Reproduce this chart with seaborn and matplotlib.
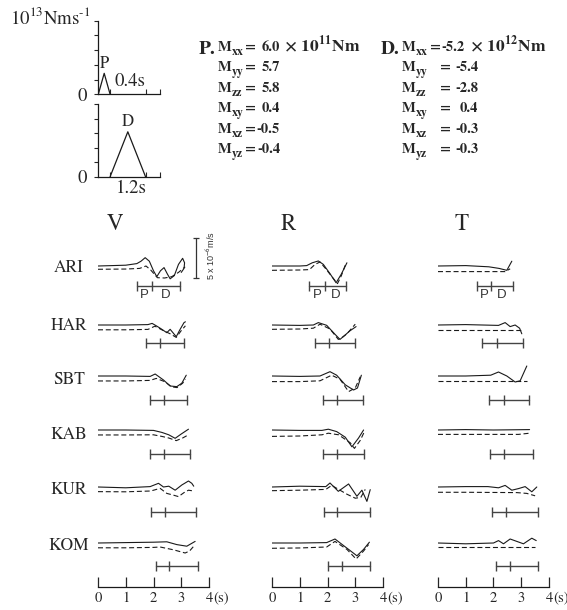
import numpy as np
import pandas as pd
import matplotlib
matplotlib.use("Agg")
import matplotlib.pyplot as plt
import matplotlib.transforms as mtrans
import seaborn as sns

sns.set_theme(style="white")
plt.rcParams['font.family'] = ['STIXGeneral', 'DejaVu Sans']
plt.rcParams['mathtext.fontset'] = 'stix'
plt.rcParams['axes.unicode_minus'] = False

# ---------------- data ----------------
# source time functions (10^13 Nm/s vs s)
stf_time_P = [0.0, 0.2, 0.4]
stf_rate_P = [0.0, 0.285, 0.0]
stf_time_D = [0.4, 1.0, 1.6]
stf_rate_D = [0.0, 0.62, 0.0]

# moment tensors
mt_components = ['xx', 'yy', 'zz', 'xy', 'xz', 'yz']
mt_P = ['6.0', '5.7', '5.8', '0.4', '-0.5', '-0.4']
mt_D = ['-5.2', '-5.4', '-2.8', '0.4', '-0.3', '-0.3']

stations = ['ARI', 'HAR', 'SBT', 'KAB', 'KUR', 'KOM']
comps = ['V', 'R', 'T']
time_ticks = [0, 1, 2, 3, 4]

# waveforms (time s, velocity 10^-6 m/s); obs = solid, syn = dashed
V_ARI_obs = [(0, 0), (1.0, 0.1), (1.4, 0.3), (1.55, 0.6), (1.7, 1.04), (1.85, 0.6), (2.0, -0.6), (2.12, -1.33),
             (2.25, -0.6), (2.38, -0.2), (2.5, -1.0), (2.6, -1.6), (2.75, -1.2), (2.9, 0.2), (3.05, 0.96),
             (3.12, 0.4), (3.1, -0.3), (3.0, -0.8)]
V_ARI_syn = [(0, -0.41), (1.0, -0.38), (1.5, -0.3), (1.73, 0.0), (1.9, -0.5), (2.14, -1.46), (2.4, -1.5),
             (2.66, -1.33), (2.9, -0.8), (3.14, -0.1)]
V_HAR_obs = [(0, 0), (1.0, 0), (1.8, 0.05), (1.95, 0.2), (2.1, -0.1), (2.24, -0.4), (2.48, -0.96), (2.6, -0.54),
             (2.82, -1.46), (2.95, -0.6), (3.1, 0.3), (3.15, 0.4)]
V_HAR_syn = [(0, -0.6), (1.0, -0.6), (1.8, -0.55), (2.05, -0.15), (2.3, -0.6), (2.6, -1.1), (2.82, -1.55),
             (3.0, -0.7), (3.15, -0.1)]
V_SBT_obs = [(0, 0), (1.0, 0.0), (1.88, -0.05), (2.06, 0.25), (2.36, -0.5), (2.6, -1.25), (2.84, -1.33),
             (3.02, -0.9), (3.18, 0.1)]
V_SBT_syn = [(0, -0.62), (1.0, -0.62), (1.88, -0.55), (2.1, -0.3), (2.4, -0.7), (2.65, -1.35), (2.85, -1.45),
             (3.05, -0.9), (3.15, -0.4)]
V_KAB_obs = [(0, 0), (1.0, 0), (2.0, -0.05), (2.3, -0.3), (2.55, -0.6), (2.78, -1.04), (3.0, -0.5), (3.26, 0.1)]
V_KAB_syn = [(0, -0.62), (1.0, -0.62), (2.0, -0.6), (2.3, -0.8), (2.55, -1.0), (2.82, -1.33), (3.05, -1.0),
             (3.26, -0.6)]
V_KUR_obs = [(0, 0), (1.0, -0.1), (1.88, 0.05), (2.18, 0.46), (2.36, 0.0), (2.55, 0.1), (2.78, -0.4), (3.02, 0.25),
             (3.26, 0.75), (3.38, 0.46), (3.45, 0.1)]
V_KUR_syn = [(0, -0.58), (1.0, -0.6), (1.9, -0.5), (2.24, -0.17), (2.48, -0.8), (2.7, -1.0), (2.9, -1.2),
             (3.1, -0.7), (3.26, -0.4), (3.45, -0.5)]
V_KOM_obs = [(0, 0), (1.0, 0.05), (2.0, 0.1), (2.48, 0.15), (2.84, -0.2), (3.2, -0.4), (3.5, 0.2)]
V_KOM_syn = [(0, -0.6), (1.0, -0.6), (2.0, -0.55), (2.24, -0.5), (2.72, -0.85), (3.14, -1.25), (3.3, -1.0),
             (3.45, -0.4)]

R_ARI_obs = [(0, 0), (1.0, 0), (1.25, 0.05), (1.45, 0.4), (1.67, 0.63), (1.85, 0.2), (2.09, -0.96), (2.31, -2.1),
             (2.5, -1.0), (2.7, 0.4)]
R_ARI_syn = [(0, -0.54), (1.0, -0.5), (1.35, -0.45), (1.55, 0.2), (1.73, 0.5), (1.95, -0.4), (2.15, -1.3),
             (2.36, -2.2), (2.5, -1.2), (2.64, 0.1)]
R_HAR_obs = [(0, 0), (1.0, -0.05), (1.49, 0), (1.67, 0.3), (1.97, -0.04), (2.27, -1.16), (2.45, -1.8),
             (2.62, -1.3), (2.8, -0.75), (3.03, -0.2)]
R_HAR_syn = [(0, -0.54), (1.0, -0.5), (1.49, -0.4), (1.73, 0.1), (2.09, -0.5), (2.39, -1.8), (2.55, -1.5),
             (2.7, -1.1), (3.0, 0.1)]
R_SBT_obs = [(0, 0), (1.0, -0.05), (1.73, 0), (2.09, 0.54), (2.33, 0.1), (2.64, -1.1), (2.94, -1.75), (3.08, -1.5),
             (3.22, 0.1)]
R_SBT_syn = [(0, -0.7), (1.0, -0.7), (1.73, -0.6), (2.15, 0.1), (2.45, -0.4), (2.76, -1.95), (3.0, -1.5),
             (3.18, -0.1)]
R_KAB_obs = [(0, 0), (1.0, -0.05), (1.8, -0.05), (2.03, 0.1), (2.33, -0.2), (2.64, -0.9), (2.88, -2.1),
             (3.12, -1.0), (3.3, 0.0)]
R_KAB_syn = [(0, -0.8), (1.0, -0.75), (1.8, -0.6), (2.03, -0.4), (2.4, -0.6), (2.82, -1.6), (2.97, -2.3),
             (3.18, -1.3), (3.33, -0.2)]
R_KUR_obs = [(0, 0), (1.0, 0.1), (1.94, 0.05), (2.09, 0.5), (2.39, -0.54), (2.76, 0.38), (3.06, -1.16),
             (3.24, -0.4), (3.42, -1.8), (3.54, -0.33)]
R_KUR_syn = [(0, -0.46), (1.0, -0.4), (1.94, -0.3), (2.15, 0.2), (2.45, -0.4), (2.7, -0.9), (3.0, -1.4),
             (3.2, -1.3), (3.36, -0.3)]
R_KOM_obs = [(0, 0), (1.0, 0), (1.97, 0.05), (2.27, 0.5), (2.57, -0.3), (2.82, -0.96), (3.06, -1.6), (3.3, -0.8),
             (3.51, 0.1)]
R_KOM_syn = [(0, -0.66), (1.0, -0.62), (1.97, -0.5), (2.27, 0.2), (2.7, -0.8), (3.03, -2.0), (3.3, -1.0),
             (3.48, -0.2)]

T_ARI_obs = [(0, 0), (1.0, 0.05), (1.83, -0.1), (2.2, -0.3), (2.48, -0.54), (2.66, 0.6)]
T_ARI_syn = [(0, -0.7), (1.0, -0.7), (2.0, -0.7), (2.42, -0.7), (2.6, -0.35)]
T_HAR_obs = [(0, 0), (1.0, 0.05), (2.18, -0.05), (2.42, 0.3), (2.6, -0.2), (2.78, 0.0), (2.94, -0.4), (3.02, -1.1)]
T_HAR_syn = [(0, -0.63), (1.0, -0.63), (2.98, -0.63)]
T_SBT_obs = [(0, 0), (1.0, 0.0), (1.9, 0.1), (2.18, 0.5), (2.48, 0.0), (2.78, -0.75), (2.96, -0.6), (3.2, 1.25)]
T_SBT_syn = [(0, -0.63), (1.0, -0.63), (3.2, -0.63)]
T_KAB_obs = [(0, 0), (1.0, 0.05), (2.0, 0.0), (3.3, 0.05)]
T_KAB_syn = [(0, -0.55), (1.0, -0.55), (2.9, -0.55), (3.3, -0.4)]
T_KUR_obs = [(0, 0), (1.0, 0.05), (1.8, 0.05), (2.18, -0.1), (2.42, 0.2), (2.66, -0.4), (2.9, -0.2), (3.14, 0.05),
             (3.38, -0.6), (3.56, 0.0)]
T_KUR_syn = [(0, -0.66), (1.0, -0.66), (2.84, -0.7), (3.2, -0.8), (3.5, -1.1)]
T_KOM_obs = [(0, 0), (1.0, -0.1), (2.0, 0.0), (2.18, 0.3), (2.36, -0.1), (2.6, 0.5), (3.08, -0.1), (3.38, 0.6),
             (3.54, 0.3)]
T_KOM_syn = [(0, -0.55), (1.0, -0.55), (3.5, -0.55)]

# P / D windows (start, P end, D end) in s
V_windows = [(1.40, 1.95, 2.94), (1.73, 2.24, 3.10), (1.88, 2.38, 3.20), (1.88, 2.38, 3.32), (1.91, 2.42, 3.54),
             (2.09, 2.56, 3.61)]
R_windows = [(1.34, 1.91, 2.66), (1.55, 2.06, 3.00), (1.84, 2.35, 3.29), (1.84, 2.35, 3.32), (1.88, 2.35, 3.54),
             (2.02, 2.53, 3.54)]
T_windows = [(1.41, 1.91, 2.71), (1.59, 2.13, 3.07), (1.84, 2.38, 3.29), (1.88, 2.38, 3.43), (1.95, 2.45, 3.61),
             (2.09, 2.60, 3.61)]
scale_amp = 5.0  # 10^-6 m/s

# ---------------- layout helpers ----------------
W, H = 567, 610
fig = plt.figure(figsize=(W / 100, H / 100), dpi=100)


def fx(px):
    return px / W


def fy(py):
    return 1 - py / H


# ---------------- source time functions ----------------
def stf_axes(top_px, bottom_px):
    ax = fig.add_axes([fx(98.3), fy(bottom_px), 61.4 / W, (bottom_px - top_px) / H])
    ax.set_xlim(0, 2.08)
    ax.set_ylim(0, 1)
    ax.patch.set_visible(False)
    for s in ['top', 'right']:
        ax.spines[s].set_visible(False)
    for s in ['left', 'bottom']:
        ax.spines[s].set_color('k')
        ax.spines[s].set_linewidth(0.9)
    ax.set_yticks(np.arange(0, 1.01, 0.2))
    ax.set_yticklabels(['0', '', '', '', '', ''])
    ax.tick_params(axis='y', direction='out', length=3, width=0.8, labelsize=13.5, pad=5, left=True)
    ax.set_xticks([0.4, 1.6, 2.08])
    ax.set_xticklabels([])
    ax.tick_params(axis='x', direction='in', length=3.5, width=0.8, bottom=True)
    return ax


ax_p = stf_axes(20.7, 94.3)
sns.lineplot(x=stf_time_P, y=stf_rate_P, ax=ax_p, color='k', lw=0.9, sort=False, estimator=None)
ax_p.text(-0.27, 0.955, r"10$^{13}$Nms$^{\text{-1}}$", ha='right', va='baseline', fontsize=13.5)
ax_p.text(0.19, 0.36, "P", ha='center', va='baseline', fontsize=12)
ax_p.text(1.08, 0.18, "0.4s", ha='center', va='center', fontsize=13.5)

ax_d = stf_axes(104.3, 176.7)
sns.lineplot(x=stf_time_D, y=stf_rate_D, ax=ax_d, color='k', lw=0.9, sort=False, estimator=None)
ax_d.text(1.0, 0.70, "D", ha='center', va='baseline', fontsize=12)
ax_d.text(1.11, -0.16, "1.2s", ha='center', va='center', fontsize=13.5)

# ---------------- moment tensor text ----------------
row_base = [50.7, 71.2, 91.7, 112.2, 132.7, 153.2]
FS = 10.5
SUBFS = 8.5
fig.text(fx(199), fy(54.5), "P.", fontsize=14, weight='bold', ha='left', va='baseline')
fig.text(fx(381), fy(54.5), "D.", fontsize=14, weight='bold', ha='left', va='baseline')
for k, c in enumerate(mt_components):
    y = fy(row_base[k])
    ysub = fy(row_base[k] + 4.0)
    for xm in (217.5, 401.5):
        fig.text(fx(xm), y, "M", fontsize=FS, weight='bold', ha='left', va='baseline')
        fig.text(fx(xm + 13.8), ysub, c, fontsize=SUBFS, weight='bold', ha='left', va='baseline')
    fig.text(fx(245.5), y, "=", fontsize=FS, weight='bold', ha='left', va='baseline')
    fig.text(fx(280), y, mt_P[k], fontsize=FS, weight='bold', ha='right', va='baseline')
    if k == 0:
        fig.text(fx(280), y, r" × 10$^{\mathbf{11}}$Nm", fontsize=12.5, weight='bold', ha='left',
                 va='baseline')
        fig.text(fx(430), y, "=", fontsize=FS, weight='bold', ha='left', va='baseline')
        fig.text(fx(465), y, mt_D[k], fontsize=FS, weight='bold', ha='right', va='baseline')
        fig.text(fx(465.5), y, r" × 10$^{\mathbf{12}}$Nm", fontsize=12.5, weight='bold', ha='left',
                 va='baseline')
    else:
        fig.text(fx(440), y, "=", fontsize=FS, weight='bold', ha='left', va='baseline')
        fig.text(fx(478), y, mt_D[k], fontsize=FS, weight='bold', ha='right', va='baseline')

# ---------------- waveform panels ----------------
col_left_px = [98, 272, 438]
base_px = [266, 325, 376, 430, 487, 543]
bar_px = [286, 343, 400, 454, 512, 566]
label_px = [271.5, 329.5, 384, 439, 494, 550]
header_x_px = [115, 288, 462]
PX_S = 27.75
PX_U = 8.0
windows = {'V': V_windows, 'R': R_windows, 'T': T_windows}
BAR_C = '#444444'


def yd(py):
    return (600 - py) / PX_U


for i, comp in enumerate(comps):
    ax = fig.add_axes([fx(col_left_px[i]), fy(600), 4 * PX_S / W, 370 / H])
    ax.set_xlim(0, 4)
    ax.set_ylim(0, 370 / PX_U)
    ax.patch.set_visible(False)
    for s in ['top', 'right', 'left']:
        ax.spines[s].set_visible(False)
    ax.spines['bottom'].set_position(('data', yd(586.7)))
    ax.spines['bottom'].set_bounds(0, 4)
    ax.spines['bottom'].set_color('k')
    ax.spines['bottom'].set_linewidth(0.9)
    ax.set_yticks([])
    ax.set_xticks(time_ticks)
    ax.set_xticklabels([str(t) for t in time_ticks])
    ax.tick_params(axis='x', direction='in', length=7.2, width=0.9, labelsize=10.5, pad=3.5, bottom=True)
    off = mtrans.offset_copy(ax.transData, fig=fig, x=3.8, y=0, units='dots')
    ax.text(4, yd(591.3), "(s)", transform=off, ha='left', va='top', fontsize=10.5)

    ax.text((header_x_px[i] - col_left_px[i]) / PX_S, yd(224.5), comp, ha='center', va='center', fontsize=16.5)

    for j, st in enumerate(stations):
        b = yd(base_px[j])
        obs = globals()[f"{comp}_{st}_obs"]
        syn = globals()[f"{comp}_{st}_syn"]
        sns.lineplot(x=[p[0] for p in obs], y=[b + p[1] for p in obs], ax=ax, color='k', lw=0.8,
                     sort=False, estimator=None)
        sns.lineplot(x=[p[0] for p in syn], y=[b + p[1] for p in syn], ax=ax, color='k', lw=0.8,
                     sort=False, estimator=None, linestyle=(0, (4.5, 2.5)))
        w = windows[comp][j]
        yb = yd(bar_px[j])
        sns.lineplot(x=list(w), y=[yb] * 3, ax=ax, color=BAR_C, lw=1.0, marker='|', markersize=6.5,
                     markeredgewidth=1.0, markeredgecolor=BAR_C, markerfacecolor=BAR_C,
                     sort=False, estimator=None)
        if j == 0:
            ax.text((w[0] + w[1]) / 2, yd(295), "P", ha='center', va='center', fontsize=9.5,
                    family='Liberation Sans', color='#333333')
            ax.text((w[1] + w[2]) / 2, yd(295), "D", ha='center', va='center', fontsize=9.5,
                    family='Liberation Sans', color='#333333')
        if i == 0:
            ax.text((69 - col_left_px[0]) / PX_S, yd(label_px[j]), st, ha='center', va='baseline',
                    fontsize=12.5)

    if comp == 'V':
        xs = (196 - col_left_px[0]) / PX_S
        y0 = yd(277.7)
        sns.lineplot(x=[xs, xs], y=[y0, y0 + scale_amp], ax=ax, color='#333333', lw=0.9, marker='_',
                     markersize=5, markeredgewidth=0.9, markeredgecolor='#333333',
                     sort=False, estimator=None)
        ax.text((211 - col_left_px[0]) / PX_S, yd(256), r"5 x 10$^{\mathsf{-6}}$m/s", rotation=90,
                ha='center', va='center', fontsize=6.5, family='Liberation Sans', color='#333333')

fig.savefig("out.png", dpi=100)
